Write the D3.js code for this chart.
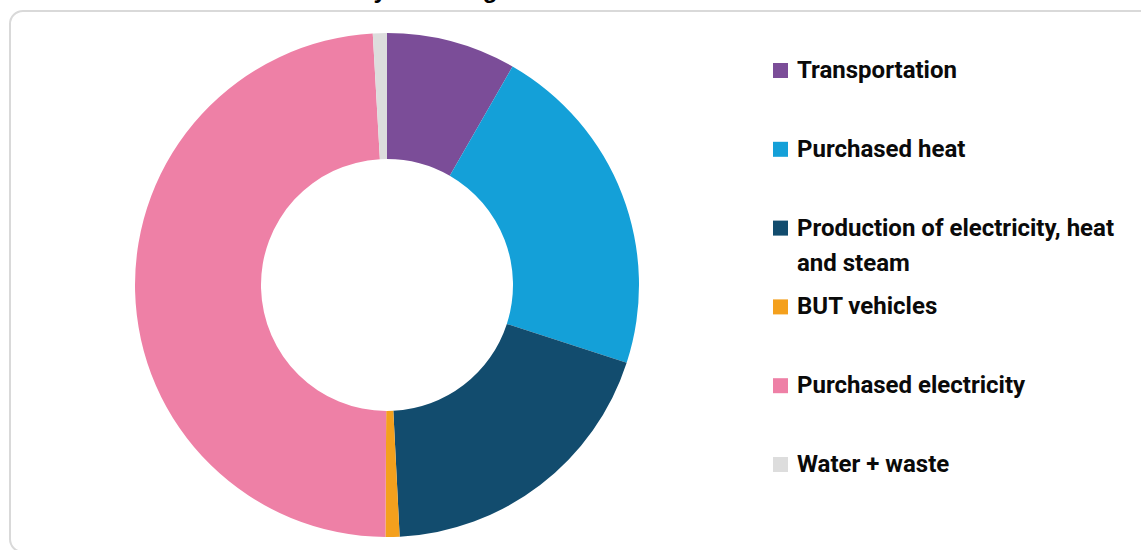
<!DOCTYPE html>
<html>
<head>
<meta charset="utf-8">
<script src="https://cdn.jsdelivr.net/npm/d3@7"></script>
<style>
    body { margin: 0; background: #fff; }
    svg { display: block; }
</style>
</head>
<body>
<script>
const categories = ["Transportation", "Purchased heat", "Production of electricity, heat and steam",
    "BUT vehicles", "Purchased electricity", "Water + waste"];
const legendLines = [["Transportation"], ["Purchased heat"], ["Production of electricity, heat", "and steam"],
    ["BUT vehicles"], ["Purchased electricity"], ["Water + waste"]];
const values = [8.3, 21.7, 19.2, 0.9, 49.0, 0.9];
const colors = ["#7b4d98", "#14a0d8", "#124c6e", "#f4a01d", "#ee80a6", "#dddddd"];

const width = 1141;
const height = 550;
const center = { x: 387, y: 285 };
const outerRadius = 252;
const innerRadius = 126;

function donutBuilder() {
    const svg = d3.select("body").append("svg")
        .attr("width", width)
        .attr("height", height);

    // title is mostly cut off above the frame, only descenders show
    svg.append("text")
        .attr("x", 232)
        .attr("y", -2)
        .style("font-family", "'Liberation Sans', Arial, sans-serif")
        .style("font-weight", "bold")
        .style("font-size", "24px")
        .attr("fill", "#000")
        .text("Emissions by main segment");

    svg.append("rect")
        .attr("x", 10)
        .attr("y", 11)
        .attr("width", width + 10)
        .attr("height", 541)
        .attr("rx", 13)
        .attr("fill", "#fff")
        .attr("stroke", "#d9d9d9")
        .attr("stroke-width", 2);

    const data = categories.map((c, i) => ({ name: c, value: values[i] }));

    const color = d3.scaleOrdinal()
        .domain(categories)
        .range(colors);

    const pie = d3.pie()
        .sort(null)
        .value(d => d.value);

    const arc = d3.arc()
        .innerRadius(innerRadius)
        .outerRadius(outerRadius);

    svg.append("g")
        .attr("transform", "translate(" + center.x + "," + center.y + ")")
        .selectAll("path")
        .data(pie(data))
        .enter()
        .append("path")
        .attr("d", arc)
        .attr("fill", d => color(d.data.name));

    const rowY = d3.scaleLinear()
        .domain([0, 1])
        .range([78, 156.8]);

    const legend = svg.append("g")
        .attr("id", "legend")
        .selectAll("g")
        .data(categories)
        .enter().append("g")
        .attr("transform", (d, i) => "translate(773," + rowY(i) + ")");

    legend.append("rect")
        .attr("x", 0)
        .attr("y", -15)
        .attr("width", 15)
        .attr("height", 15)
        .attr("fill", d => color(d));

    legend.append("text")
        .attr("x", 24)
        .attr("y", 0)
        .style("font-family", "Roboto, 'Liberation Sans', sans-serif")
        .style("font-weight", "bold")
        .style("font-size", "24px")
        .attr("fill", "#0a0a0a")
        .each(function (d, i) {
            d3.select(this).selectAll("tspan")
                .data(legendLines[i])
                .enter().append("tspan")
                .attr("x", 24)
                .attr("dy", (t, j) => j === 0 ? 0 : 35)
                .text(t => t);
        });
}

document.addEventListener("DOMContentLoaded", () => donutBuilder());
</script>
</body>
</html>
